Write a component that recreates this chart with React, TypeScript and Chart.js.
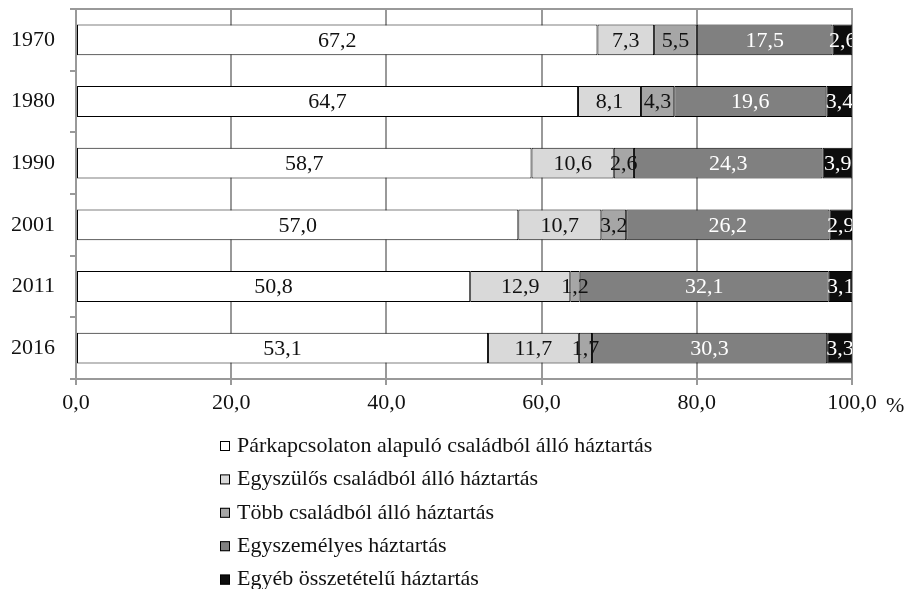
import React, { useEffect, useRef } from "react";
import { Chart, registerables } from "chart.js";

Chart.register(...registerables);

const years = ["1970", "1980", "1990", "2001", "2011", "2016"];
const seriesNames = [
  "Párkapcsolaton alapuló családból álló háztartás",
  "Egyszülős családból álló háztartás",
  "Több családból álló háztartás",
  "Egyszemélyes háztartás",
  "Egyéb összetételű háztartás",
];
const parkapcsolat = [67.2, 64.7, 58.7, 57.0, 50.8, 53.1];
const egyszulos = [7.3, 8.1, 10.6, 10.7, 12.9, 11.7];
const tobbCsalad = [5.5, 4.3, 2.6, 3.2, 1.2, 1.7];
const egyszemelyes = [17.5, 19.6, 24.3, 26.2, 32.1, 30.3];
const egyeb = [2.6, 3.4, 3.9, 2.9, 3.1, 3.3];
const seriesValues = [parkapcsolat, egyszulos, tobbCsalad, egyszemelyes, egyeb];
const xTicks = [0, 20, 40, 60, 80, 100];
const axisUnit = "%";

const fills = ["#ffffff", "#d9d9d9", "#a6a6a6", "#808080", "#0d0d0d"];
const labelColors = ["#111111", "#111111", "#111111", "#ffffff", "#ffffff"];
const FONT = "'Liberation Serif', 'Times New Roman', serif";
const FS = 22;
const GRID = "#999999";

const fmt = (v: number) => v.toFixed(1).replace(".", ",");

const labelsPlugin = {
  id: "segLabels",
  afterDatasetsDraw(chart: any) {
    const { ctx, chartArea } = chart;
    ctx.save();
    ctx.beginPath();
    ctx.rect(chartArea.left, chartArea.top - 2, chartArea.right - chartArea.left, chartArea.bottom - chartArea.top + 4);
    ctx.clip();
    ctx.font = `${FS}px ${FONT}`;
    ctx.textAlign = "center";
    ctx.textBaseline = "middle";
    chart.data.datasets.forEach((ds: any, di: number) => {
      const meta = chart.getDatasetMeta(di);
      meta.data.forEach((bar: any, i: number) => {
        const v = ds.data[i];
        const cx = (bar.x + bar.base) / 2;
        ctx.fillStyle = labelColors[di];
        ctx.fillText(fmt(v), cx, bar.y + 1);
      });
    });
    ctx.restore();
  },
};

const framePlugin = {
  id: "frameExtras",
  beforeDatasetsDraw(chart: any) {
    const { ctx, chartArea } = chart;
    ctx.save();
    ctx.strokeStyle = GRID;
    ctx.lineWidth = 2;
    ctx.beginPath();
    ctx.moveTo(chartArea.left - 6, chartArea.top);
    ctx.lineTo(chartArea.right + 1, chartArea.top);
    ctx.stroke();
    ctx.restore();
  },
  afterDraw(chart: any) {
    const { ctx, chartArea } = chart;
    ctx.save();
    ctx.font = `${FS}px ${FONT}`;
    ctx.fillStyle = "#111111";
    ctx.textAlign = "left";
    ctx.textBaseline = "middle";
    ctx.fillText(axisUnit, chartArea.right + 34, chartArea.bottom + 27);
    // legend
    const x0 = 220;
    const y0 = 446;
    const step = 33.4;
    seriesNames.forEach((name, i) => {
      const y = y0 + i * step;
      ctx.fillStyle = fills[i];
      ctx.fillRect(x0, y - 5, 10, 10);
      ctx.strokeStyle = "#000000";
      ctx.lineWidth = 1;
      ctx.strokeRect(x0 + 0.5, y - 4.5, 9, 9);
      ctx.fillStyle = "#111111";
      ctx.fillText(name, x0 + 17, y);
    });
    ctx.restore();
  },
};

export default function App() {
  const ref = useRef<HTMLCanvasElement | null>(null);
  useEffect(() => {
    if (!ref.current) return;
    const chart = new Chart(ref.current, {
      type: "bar",
      data: {
        labels: years,
        datasets: seriesValues.map((vals, i) => ({
          label: seriesNames[i],
          data: vals,
          backgroundColor: fills[i],
          borderColor: "#000000",
          borderWidth: 1,
          borderSkipped: false,
          barPercentage: 0.5,
          categoryPercentage: 1,
        })),
      },
      options: {
        indexAxis: "y",
        animation: false,
        responsive: false,
        layout: { padding: { top: 9, right: 57, bottom: 170, left: 0 } },
        plugins: {
          legend: { display: false },
          tooltip: { enabled: false },
        },
        scales: {
          x: {
            stacked: true,
            min: 0,
            max: 100,
            afterBuildTicks: (scale: any) => {
              scale.ticks = xTicks.map((v) => ({ value: v }));
            },
            afterFit: (scale: any) => {
              scale.height = 40;
              scale.paddingLeft = 0;
              scale.paddingRight = 0;
            },
            ticks: {
              callback: (v: any) => fmt(Number(v)),
              font: { family: FONT, size: FS },
              color: "#111111",
              padding: 5,
              maxRotation: 0,
            },
            grid: { color: GRID, lineWidth: 2, tickLength: 6, drawTicks: true },
            border: { color: GRID, width: 2 },
          },
          y: {
            stacked: true,
            afterFit: (scale: any) => {
              scale.width = 76;
              scale.paddingTop = 0;
              scale.paddingBottom = 0;
            },
            ticks: {
              font: { family: FONT, size: FS },
              color: "#111111",
              padding: 15,
            },
            grid: { offset: true, drawOnChartArea: false, color: GRID, lineWidth: 2, tickLength: 6 },
            border: { color: GRID, width: 2 },
          },
        },
      },
      plugins: [framePlugin, labelsPlugin],
    });
    return () => chart.destroy();
  }, []);
  return (
    <div style={{ position: "fixed", left: 0, top: 0, width: 909, height: 589, background: "#fff" }}>
      <canvas ref={ref} width={909} height={589} style={{ width: 909, height: 589, display: "block" }} />
    </div>
  );
}
